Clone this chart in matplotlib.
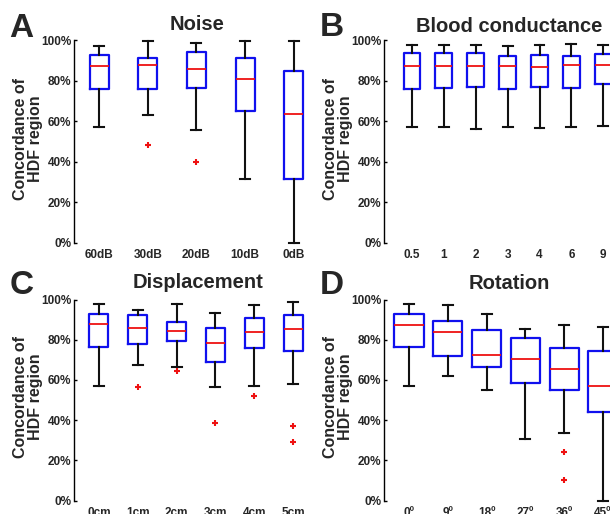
import matplotlib
matplotlib.use("Agg")
import matplotlib.pyplot as plt

plt.rcParams['font.family'] = ['Liberation Sans', 'DejaVu Sans']
plt.rcParams['font.weight'] = 'bold'

# values, in percent
noise_labels = ['60dB', '30dB', '20dB', '10dB', '0dB']
noise_whishi = [97.5, 99.7, 99.0, 99.7, 99.7]
noise_q3 = [92.6, 91.3, 94.1, 91.1, 84.8]
noise_med = [87.5, 87.8, 85.8, 80.9, 63.4]
noise_q1 = [75.9, 75.9, 76.4, 64.9, 31.6]
noise_whislo = [57.0, 62.9, 55.5, 31.3, 0.0]
noise_fliers = [[], [48.1], [39.7], [], []]

blood_labels = ['0.5', '1', '2', '3', '4', '6', '9']
blood_whishi = [97.9, 97.9, 97.9, 97.4, 97.9, 98.4, 97.9]
blood_q3 = [93.6, 93.6, 93.6, 92.4, 92.6, 92.1, 93.4]
blood_med = [87.5, 87.3, 87.6, 87.5, 87.1, 88.0, 88.0]
blood_q1 = [75.9, 76.4, 76.8, 75.9, 76.8, 76.3, 78.6]
blood_whislo = [57.0, 57.2, 56.0, 57.0, 56.7, 57.0, 57.8]
blood_fliers = [[], [], [], [], [], [], []]

disp_labels = ['0cm', '1cm', '2cm', '3cm', '4cm', '5cm']
disp_whishi = [98.0, 94.7, 98.0, 93.5, 97.2, 99.0]
disp_q3 = [93.0, 92.5, 89.0, 85.7, 90.7, 92.2]
disp_med = [87.8, 85.7, 84.5, 78.2, 83.7, 85.3]
disp_q1 = [76.4, 78.0, 79.5, 69.1, 75.7, 74.2]
disp_whislo = [57.2, 67.6, 66.4, 56.6, 57.1, 57.8]
disp_fliers = [[], [56.4], [64.4], [38.5], [52.0], [37.3, 29.2]]

rot_labels = ['0º', '9º', '18º', '27º', '36º', '45º']
rot_whishi = [97.6, 97.3, 92.7, 85.3, 87.2, 86.2]
rot_q3 = [92.7, 89.3, 85.0, 80.7, 76.0, 74.6]
rot_med = [87.5, 83.7, 72.4, 70.2, 65.2, 56.9]
rot_q1 = [76.2, 71.7, 66.2, 58.3, 54.9, 43.8]
rot_whislo = [56.9, 62.1, 55.1, 30.7, 33.4, 0.0]
rot_fliers = [[], [], [], [], [24.0, 10.0], []]

W, H = 610, 514
TXT = '#262626'

fig = plt.figure(figsize=(W / 100, H / 100), dpi=100)


def px_rect(left, top, right, bottom):
    return [left / W, 1 - bottom / H, (right - left) / W, (bottom - top) / H]


def fig_text(x, y, s, **kw):
    fig.text(x / W, 1 - y / H, s, color=TXT, fontweight='bold', **kw)


def draw_panel(ax, labels, whislo, q1, med, q3, whishi, fliers, box_w, cap_w, xlim):
    stats = []
    for i in range(len(labels)):
        stats.append(dict(whislo=whislo[i], q1=q1[i], med=med[i], q3=q3[i],
                          whishi=whishi[i], fliers=fliers[i]))
    pos = list(range(1, len(labels) + 1))
    art = ax.bxp(stats, positions=pos, widths=box_w, capwidths=cap_w,
                 boxprops=dict(color='#1010ee', lw=1.6),
                 medianprops=dict(color='#ee1111', lw=1.3),
                 whiskerprops=dict(color='#111111', lw=1.5),
                 capprops=dict(color='#111111', lw=1.5),
                 flierprops=dict(marker='+', markeredgecolor='#ee1111',
                                 markersize=4, markeredgewidth=1.5))
    for c in art['caps'] + art['whiskers']:
        c.set_clip_on(False)
    ax.set_xlim(xlim)
    ax.set_ylim(0, 100)
    ax.set_xticks(pos, labels)
    ax.set_yticks(range(0, 101, 20), [f'{v}%' for v in range(0, 101, 20)])
    ax.tick_params(axis='x', length=0, pad=5, labelsize=8.5, labelcolor=TXT)
    ax.tick_params(axis='y', direction='in', length=2.5, width=1, pad=2,
                   labelsize=8.5, labelcolor=TXT)
    for s in ['top', 'right', 'bottom']:
        ax.spines[s].set_visible(False)
    ax.spines['left'].set_linewidth(1.0)
    ax.patch.set_alpha(0)


axA = fig.add_axes(px_rect(74, 40.5, 318, 242.5))
draw_panel(axA, noise_labels, noise_whislo, noise_q1, noise_med, noise_q3,
           noise_whishi, noise_fliers, 0.39, 0.21, (0.485, 5.5))

axB = fig.add_axes(px_rect(384, 40.5, 632, 242.5))
draw_panel(axB, blood_labels, blood_whislo, blood_q1, blood_med, blood_q3,
           blood_whishi, blood_fliers, 0.53, 0.31, (0.12, 7.9))

axC = fig.add_axes(px_rect(74, 299.5, 318, 500.5))
draw_panel(axC, disp_labels, disp_whislo, disp_q1, disp_med, disp_q3,
           disp_whishi, disp_fliers, 0.49, 0.26, (0.356, 6.644))

axD = fig.add_axes(px_rect(384, 299.5, 632, 500.5))
draw_panel(axD, rot_labels, rot_whislo, rot_q1, rot_med, rot_q3,
           rot_whishi, rot_fliers, 0.75, 0.26, (0.356, 6.75))

# titles, panel letters, y labels
fig_text(197, 30, 'Noise', fontsize=14.5, ha='center', va='baseline')
fig_text(509, 32, 'Blood conductance', fontsize=14.5, ha='center', va='baseline')
fig_text(198, 288, 'Displacement', fontsize=14.5, ha='center', va='baseline')
fig_text(509, 289, 'Rotation', fontsize=14.5, ha='center', va='baseline')

fig_text(9, 37, 'A', fontsize=24, ha='left', va='baseline')
fig_text(320, 36, 'B', fontsize=24, ha='left', va='baseline')
fig_text(10, 294, 'C', fontsize=24, ha='left', va='baseline')
fig_text(320, 294, 'D', fontsize=24, ha='left', va='baseline')

for x, y in [(28, 139), (338, 139), (28, 397), (338, 397)]:
    fig_text(x, y, 'Concordance of\nHDF region', fontsize=11.5, rotation=90,
             ha='center', va='center', multialignment='center', linespacing=0.95)

fig.savefig('out.png', dpi=100)
